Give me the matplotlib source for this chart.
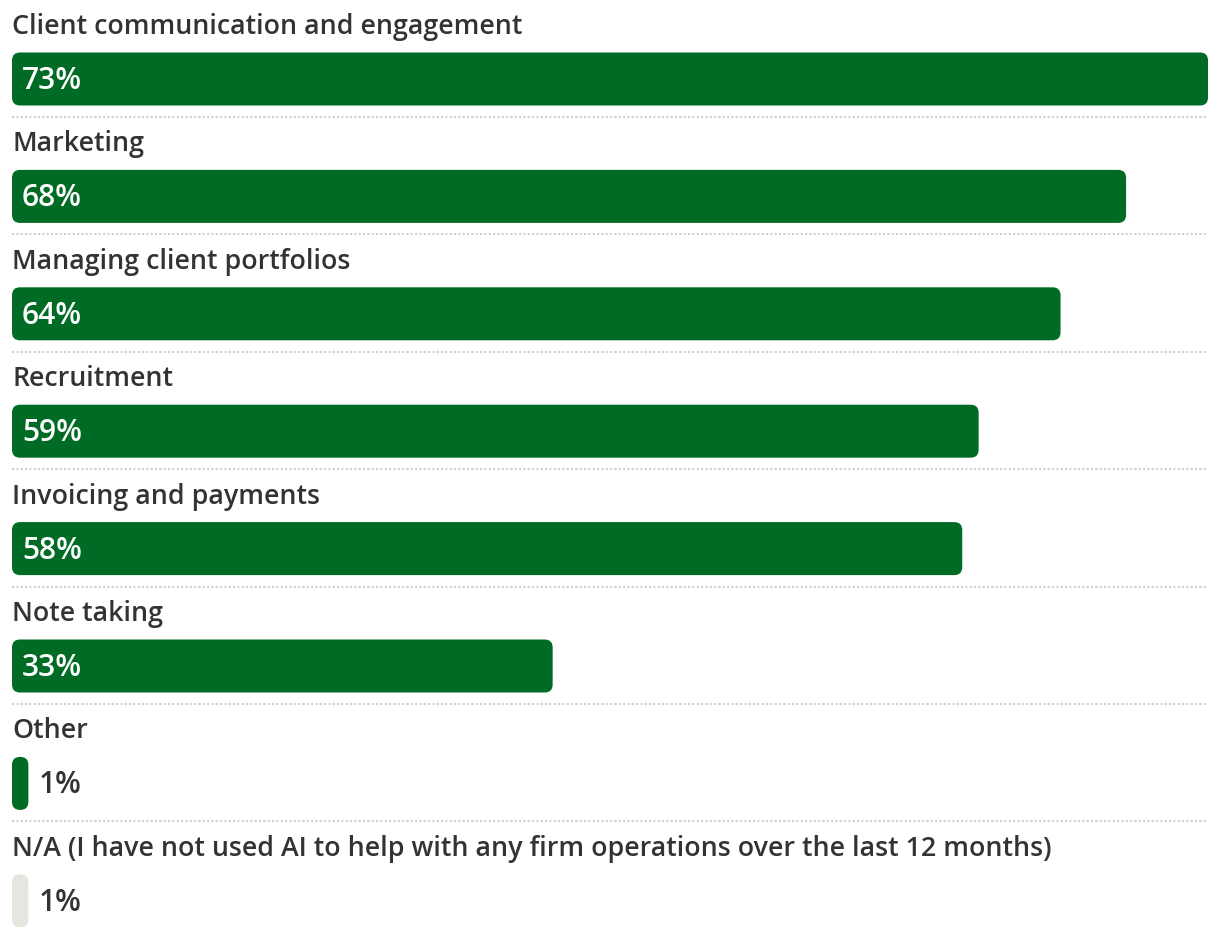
import matplotlib
matplotlib.use("Agg")
import matplotlib.pyplot as plt
from matplotlib.patches import FancyBboxPatch

categories = [
    "Client communication and engagement",
    "Marketing",
    "Managing client portfolios",
    "Recruitment",
    "Invoicing and payments",
    "Note taking",
    "Other",
    "N/A (I have not used AI to help with any firm operations over the last 12 months)",
]
values = [73, 68, 64, 59, 58, 33, 1, 1]
labels = ["73%", "68%", "64%", "59%", "58%", "33%", "1%", "1%"]
bar_colors = ["#006B24"] * 7 + ["#E6E6DF"]

plt.rcParams['font.family'] = ['Open Sans', 'DejaVu Sans']

W, H = 1220, 940
fig = plt.figure(figsize=(W / 100, H / 100), dpi=100)
ax = fig.add_axes([0, 0, 1, 1])

px_per_x = 1196 / 73.0
x0_px = 12
pitch = 117.4
c0 = 79
ax.set_xlim(-x0_px / px_per_x, (W - x0_px) / px_per_x)
ax.set_ylim((H - c0) / pitch, -c0 / pitch)
ax.axis('off')

bar_h = 53 / pitch
radius = 8 / px_per_x
aspect = px_per_x / pitch
text_col = "#333333"

for i, (cat, v, lab, col) in enumerate(zip(categories, values, labels, bar_colors)):
    p = FancyBboxPatch((0, i - bar_h / 2), v, bar_h,
                       boxstyle=f"round,pad=0,rounding_size={radius}",
                       mutation_aspect=aspect, facecolor=col, edgecolor='none')
    ax.add_patch(p)
    ax.text(0, i - 45 / pitch, cat, ha='left', va='baseline', fontsize=19.3,
            fontweight='semibold', color=text_col)
    if v >= 10:
        ax.text(10 / px_per_x, i + 10 / pitch, lab, ha='left', va='baseline',
                fontsize=21.5, color='white', fontweight='semibold')
    else:
        ax.text(v + 10 / px_per_x, i + 10 / pitch, lab, ha='left', va='baseline',
                fontsize=21.5, color=text_col, fontweight='semibold')
    if i < len(categories) - 1:
        ax.plot([0, 73], [i + 38 / pitch] * 2, linestyle=(0, (1.2, 1.2)),
                color='#CCCCCC', linewidth=1.3)

fig.savefig("out.png", dpi=100)
